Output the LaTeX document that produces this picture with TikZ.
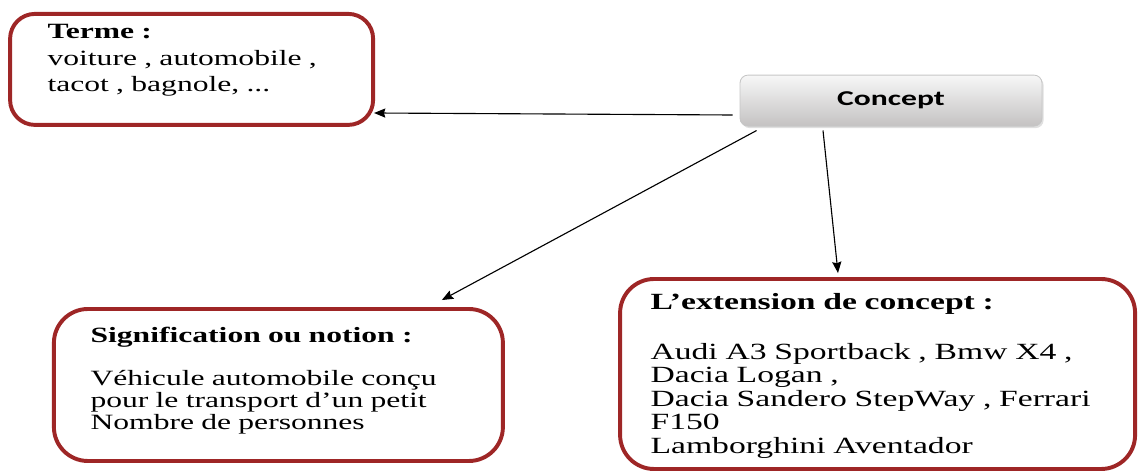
\documentclass[tikz,border=0pt]{standalone}
\usepackage{fontspec}
\setmainfont{Liberation Serif}[FakeStretch=1.45]
\newfontfamily\conceptfont{Carlito}[FakeStretch=1.5]
\usetikzlibrary{arrows.meta,shadows}

\begin{document}
\begin{tikzpicture}[>={Stealth[length=8pt,width=6.5pt,inset=1pt]}, thick,
        cadre/.style={draw=cadrered, line width=2.8pt, rounded corners=0.85cm},
        texte/.style={inner sep=0pt, anchor=base west, align=left},
        fleche/.style={->, color=black, line width=0.8pt}]
        % Couleurs
        \definecolor{cadrered}{RGB}{158, 38, 38}
        \definecolor{conceptgray}{RGB}{196, 194, 194}

        \useasboundingbox (0,0) rectangle (28.475,11.775);

        % Cadres
        \node[cadre, rounded corners=0.62cm, minimum width=9.075cm, minimum height=2.775cm] (terme) at (4.79,10.04) {};
        \node[cadre, minimum width=11.225cm, minimum height=3.8cm] (signif) at (6.96,2.15) {};
        \node[cadre, minimum width=12.875cm, minimum height=4.75cm] (ext) at (21.94,2.425) {};

        \node[draw=gray!45, line width=0.6pt, rounded corners=0.2cm, top color=gray!6, bottom color=conceptgray, drop shadow={opacity=0.25, shadow xshift=0.04cm, shadow yshift=-0.05cm}, minimum width=7.55cm, minimum height=1.275cm, font=\conceptfont\bfseries\fontsize{15}{17}\selectfont] (concept) at (22.275,9.26) {Concept};

        % Textes
        \node[texte, text width=8.5cm, font=\fontsize{15.5}{18.6}\selectfont] (termetxt) at (1.175,10.8) {\textbf{Terme :}\\voiture , automobile ,\\tacot , bagnole, ...};

        \node[texte, text width=10.5cm, font=\fontsize{15.5}{15.6}\selectfont] (signiftxt) at (2.25,3.2) {\textbf{Signification ou notion :}\\[14.5pt]Véhicule automobile conçu\\pour le transport d’un petit\\Nombre de personnes};

        \node[texte, text width=12.5cm, font=\fontsize{16.5}{16.7}\selectfont] (exttxt) at (16.25,4.025) {\textbf{L’extension de concept :}\\[18.5pt]Audi A3 Sportback , Bmw X4 ,\\Dacia Logan ,\\Dacia Sandero StepWay , Ferrari\\F150\\Lamborghini Aventador};

        % Fleches
        \draw[fleche] ([xshift=-0.175cm, yshift=-0.36cm]concept.west) -- ([xshift=-0.025cm, yshift=-1.09cm]terme.east);
        \draw[fleche] ([xshift=0.425cm, yshift=-0.1cm]concept.south west) -- ([xshift=-1.575cm, yshift=0.175cm]signif.north east);
        \draw[fleche] ([xshift=-1.7cm, yshift=-0.1cm]concept.south) -- ([xshift=-0.99cm, yshift=0.1cm]ext.north);

    \end{tikzpicture}
\end{document}
